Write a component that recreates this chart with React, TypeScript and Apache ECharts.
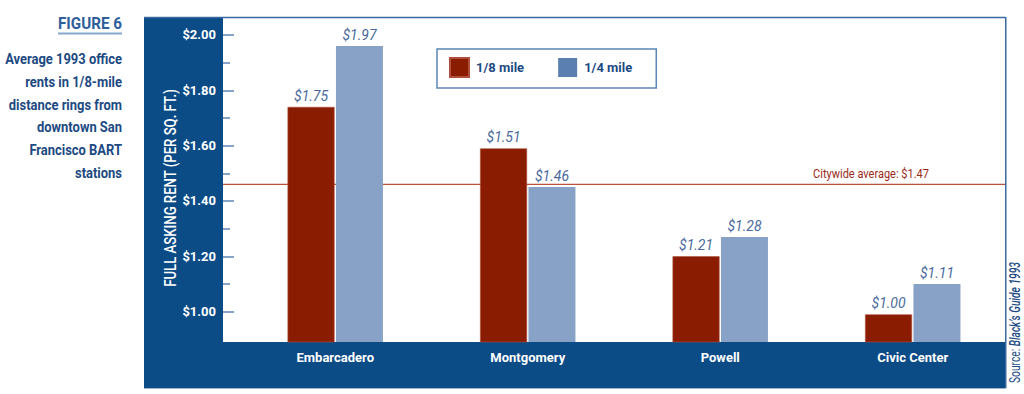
import React, { useEffect, useRef } from "react";
import * as echarts from "echarts";

const categories = ["Embarcadero", "Montgomery", "Powell", "Civic Center"];
const seriesNames = ["1/8 mile", "1/4 mile"];
const eighthMile = [1.74, 1.59, 1.2, 0.99];
const quarterMile = [1.96, 1.45, 1.27, 1.1];
const eighthLabels = ["$1.75", "$1.51", "$1.21", "$1.00"];
const quarterLabels = ["$1.97", "$1.46", "$1.28", "$1.11"];
const yTickValues = [1.0, 1.2, 1.4, 1.6, 1.8, 2.0];
const yMinorTickValues = [1.1, 1.3, 1.5, 1.7, 1.9];
const citywideAverage = 1.46;
const citywideLabel = "Citywide average: $1.47";
const yAxisName = "FULL ASKING RENT (PER SQ. FT.)";
const figureTitle = "FIGURE 6";
const figureCaption = [
  "Average 1993 office",
  "rents in 1/8-mile",
  "distance rings from",
  "downtown San",
  "Francisco BART",
  "stations",
];
const sourceLead = "Source: ";
const sourceName = "Black\u2019s Guide 1993";

const FAM = "Roboto, sans-serif";
const FRAME = "#0b4b86";
const RED = "#8a1c02";
const LIGHT = "#87a2c6";
const LEGEND_LIGHT = "#5b7fb1";
const TEXT_BLUE = "#1d4a82";

const Y_MIN = 0.89;
const Y_MAX = 2.065;

function measure(text: string, font: string): number {
  const ctx = document.createElement("canvas").getContext("2d");
  if (!ctx) return text.length * 7;
  ctx.font = font;
  return ctx.measureText(text).width;
}

export default function App() {
  const ref = useRef<HTMLDivElement>(null);

  useEffect(() => {
    if (!ref.current) return;
    const chart = echarts.init(ref.current, null, { renderer: "svg" });

    const yCommon = {
      type: "value",
      min: Y_MIN,
      max: Y_MAX,
      offset: 16,
      position: "left",
      z: 5,
      axisLine: { show: false },
      splitLine: { show: false },
    };

    const barLabel = {
      show: true,
      position: "top",
      distance: 4,
      color: "#4a6a9c",
      fontFamily: FAM,
      fontStyle: "italic",
      fontSize: 14,
    };

    const option: any = {
      animation: false,
      grid: { left: 239, right: 15, top: 17, bottom: 52 },
      legend: {
        left: 437,
        top: 49,
        orient: "horizontal",
        itemWidth: 19,
        itemHeight: 19,
        itemGap: 34,
        padding: [8, 24, 10, 12],
        borderColor: "#5b86b5",
        borderWidth: 1.5,
        backgroundColor: "#ffffff",
        icon: "rect",
        textStyle: {
          fontFamily: FAM,
          fontWeight: "bold",
          fontSize: 13,
          color: TEXT_BLUE,
          width: 62,
          padding: [0, 0, 0, 2],
        },
        data: [
          { name: seriesNames[0], itemStyle: { color: RED } },
          { name: seriesNames[1], itemStyle: { color: LEGEND_LIGHT } },
        ],
      },
      xAxis: {
        type: "category",
        data: categories,
        z: 5,
        axisLine: { show: false },
        axisTick: { show: false },
        axisLabel: {
          color: "#ffffff",
          fontFamily: FAM,
          fontWeight: "bold",
          fontSize: 13,
          margin: 9,
        },
      },
      yAxis: [
        {
          ...yCommon,
          axisTick: {
            show: true,
            inside: true,
            length: 11,
            customValues: yTickValues,
            lineStyle: { color: "#5d86b4", width: 1.5 },
          },
          axisLabel: {
            show: true,
            customValues: yTickValues,
            inside: false,
            margin: 7,
            color: "#ffffff",
            fontFamily: FAM,
            fontWeight: "bold",
            fontSize: 13,
            formatter: (v: number) => "$" + v.toFixed(2),
          },
        },
        {
          ...yCommon,
          axisTick: {
            show: true,
            inside: true,
            length: 7,
            customValues: yMinorTickValues,
            lineStyle: { color: "#5d86b4", width: 1.5 },
          },
          axisLabel: { show: false },
        },
      ],
      series: [
        {
          name: seriesNames[0],
          type: "bar",
          yAxisIndex: 0,
          data: eighthMile,
          barWidth: 47,
          barGap: "3%",
          itemStyle: { color: RED, borderColor: "#b0503a", borderWidth: 0.6 },
          label: { ...barLabel, formatter: (p: any) => eighthLabels[p.dataIndex] },
        },
        {
          name: seriesNames[1],
          type: "bar",
          yAxisIndex: 0,
          data: quarterMile,
          barWidth: 47,
          barGap: "3%",
          itemStyle: { color: LIGHT },
          label: { ...barLabel, formatter: (p: any) => quarterLabels[p.dataIndex] },
        },
      ],
    };

    chart.setOption(option);

    const avgY = chart.convertToPixel({ yAxisIndex: 0 }, citywideAverage) as number;
    const plotLeft = 223;
    const plotRight = 1005;
    const plotTop = 17;
    const plotBottom = 342;
    const frameBottom = 388;

    const avgFont = `13px ${FAM}`;
    const avgScale = 116 / measure(citywideLabel, avgFont);

    const nameFont = `500 17px ${FAM}`;
    const nameScale = 198 / measure(yAxisName, nameFont);

    const srcFontA = `14px ${FAM}`;
    const srcFontB = `italic 500 14px ${FAM}`;
    const srcScale = 121 / (measure(sourceLead, srcFontA) + measure(sourceName, srcFontB));

    const titleFont = `bold 17px ${FAM}`;
    const titleScale = 64 / measure(figureTitle, titleFont);

    const capFont = `bold 15.5px ${FAM}`;
    const capScale = 117 / measure(figureCaption[0], capFont);

    chart.setOption({
      graphic: [
        {
          type: "rect",
          z: -10,
          shape: { x: 144, y: plotTop, width: plotLeft - 144, height: frameBottom - plotTop },
          style: { fill: FRAME },
        },
        {
          type: "rect",
          z: -10,
          shape: { x: 144, y: plotBottom, width: plotRight - 144 + 1, height: frameBottom - plotBottom },
          style: { fill: FRAME },
        },
        {
          type: "line",
          z: -9,
          shape: { x1: 144, y1: plotTop + 0.5, x2: plotRight + 0.75, y2: plotTop + 0.5 },
          style: { stroke: "#3a6aa0", lineWidth: 1.5 },
        },
        {
          type: "line",
          z: -9,
          shape: { x1: plotRight + 0.75, y1: plotTop, x2: plotRight + 0.75, y2: frameBottom },
          style: { stroke: "#3a6aa0", lineWidth: 1.5 },
        },
        {
          type: "line",
          z: -9,
          shape: { x1: 144, y1: frameBottom + 0.5, x2: plotRight + 1, y2: frameBottom + 0.5 },
          style: { stroke: "#9fb4cc", lineWidth: 1 },
        },
        {
          type: "line",
          z: 1,
          shape: { x1: plotLeft, y1: avgY, x2: plotRight, y2: avgY },
          style: { stroke: "#b9523a", lineWidth: 1.3 },
        },
        {
          type: "text",
          z: 10,
          x: 871,
          y: avgY - 11,
          scaleX: avgScale,
          style: {
            text: citywideLabel,
            fill: "#9a2a18",
            font: avgFont,
            textAlign: "center",
            textVerticalAlign: "middle",
          },
        },
        {
          type: "text",
          z: 10,
          x: 170,
          y: 188,
          rotation: Math.PI / 2,
          scaleX: nameScale,
          style: {
            text: yAxisName,
            fill: "#ffffff",
            font: nameFont,
            textAlign: "center",
            textVerticalAlign: "middle",
          },
        },
        {
          type: "text",
          z: 10,
          x: 1015.5,
          y: 322.5,
          rotation: Math.PI / 2,
          scaleX: srcScale,
          style: {
            text: `{a|${sourceLead}}{b|${sourceName}}`,
            textAlign: "center",
            textVerticalAlign: "middle",
            rich: {
              a: { fontFamily: FAM, fontSize: 14, fill: TEXT_BLUE, color: TEXT_BLUE },
              b: { fontFamily: FAM, fontSize: 14, fontWeight: 500, fontStyle: "italic", fill: TEXT_BLUE, color: TEXT_BLUE },
            },
          },
        },
        {
          type: "text",
          z: 10,
          x: 122,
          y: 23.5,
          scaleX: titleScale,
          style: {
            text: figureTitle,
            fill: "#2f5f9a",
            font: titleFont,
            textAlign: "right",
            textVerticalAlign: "middle",
          },
        },
        {
          type: "line",
          z: 10,
          shape: { x1: 58, y1: 33.5, x2: 122, y2: 33.5 },
          style: { stroke: "#86a8cf", lineWidth: 2 },
        },
        {
          type: "text",
          z: 10,
          x: 122,
          y: 47.6,
          scaleX: capScale,
          style: {
            text: figureCaption.join("\n"),
            fill: TEXT_BLUE,
            font: capFont,
            lineHeight: 22.7,
            textAlign: "right",
            textVerticalAlign: "top",
          },
        },
      ],
    });

    return () => chart.dispose();
  }, []);

  return <div ref={ref} style={{ width: 1024, height: 394, position: "absolute", left: 0, top: 0 }} />;
}
